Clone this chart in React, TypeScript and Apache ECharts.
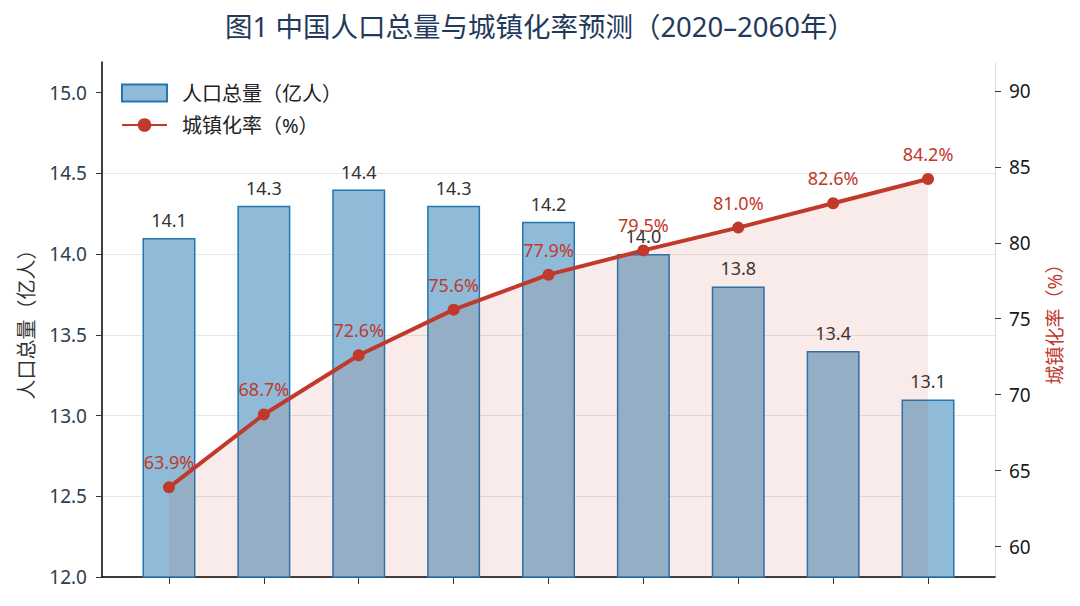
import React, { useEffect, useRef } from "react";
import * as echarts from "echarts";

const years = [2020, 2025, 2030, 2035, 2040, 2045, 2050, 2055, 2060];
const population = [14.1, 14.3, 14.4, 14.3, 14.2, 14.0, 13.8, 13.4, 13.1];
const urbanRate = [63.9, 68.7, 72.6, 75.6, 77.9, 79.5, 81.0, 82.6, 84.2];
const leftTicks = [12.0, 12.5, 13.0, 13.5, 14.0, 14.5, 15.0];
const rightTicks = [60, 65, 70, 75, 80, 85, 90];

const FONT = "'Noto Sans', 'Noto Sans CJK SC', sans-serif";
const RED = "#c0392b";
const BLUE = "#1f77b4";

export default function App() {
  const ref = useRef<HTMLDivElement>(null);
  useEffect(() => {
    if (!ref.current) return;
    const chart = echarts.init(ref.current, undefined, { renderer: "svg" });
    chart.setOption({
      animation: false,
      backgroundColor: "#ffffff",
      textStyle: { fontFamily: FONT },
      title: {
        text: "图1 中国人口总量与城镇化率预测（2020–2060年）",
        left: "center",
        top: 8,
        textStyle: { fontFamily: FONT, fontSize: 27.5, fontWeight: "normal", color: "#1f3a5c" },
      },
      legend: {
        orient: "vertical",
        left: 116,
        top: 78,
        itemWidth: 45,
        itemHeight: 17,
        itemGap: 12,
        textStyle: { fontFamily: FONT, fontSize: 20, color: "#222", padding: [0, 0, 0, 10] },
        data: [
          { name: "人口总量（亿人）", icon: "rect" },
          { name: "城镇化率（%）" },
        ],
      },
      grid: { left: 102, right: 85, top: 62, bottom: 29, containLabel: false },
      xAxis: {
        type: "value",
        min: 2016.47,
        max: 2063.53,
        axisLine: { show: true, onZero: false, lineStyle: { color: "#000", width: 1.5 } },
        axisTick: { show: true, customValues: years, length: 7, lineStyle: { color: "#333" } },
        axisLabel: { show: false },
        splitLine: { show: false },
      },
      yAxis: [
        {
          type: "value",
          min: 12,
          max: 15.19,
          interval: 0.5,
          name: "人口总量（亿人）",
          nameLocation: "middle",
          nameGap: 66,
          nameRotate: 90,
          nameTextStyle: { fontFamily: FONT, fontSize: 20, color: "#333" },
          axisLine: { show: true, lineStyle: { color: "#000", width: 1.5 } },
          axisTick: { show: true, customValues: leftTicks, length: 6, lineStyle: { color: "#333" } },
          axisLabel: {
            fontFamily: FONT,
            fontSize: 19,
            color: "#2c3e50",
            margin: 15,
            customValues: leftTicks,
            formatter: (v: number) => v.toFixed(1),
          },
          splitLine: { show: true, showMaxLine: false, lineStyle: { color: "#e6e6e6", width: 1 } },
        },
        {
          type: "value",
          min: 58,
          max: 91.9,
          position: "right",
          name: "城镇化率（%）",
          nameLocation: "middle",
          nameGap: 50,
          nameRotate: 90,
          nameTextStyle: { fontFamily: FONT, fontSize: 19, color: RED },
          axisLine: { show: true, lineStyle: { color: "#e0e0e0", width: 1 } },
          axisTick: { show: true, customValues: rightTicks, length: 6, lineStyle: { color: "#333" } },
          axisLabel: {
            fontFamily: FONT,
            fontSize: 19,
            color: "#1a1a1a",
            margin: 14,
            customValues: rightTicks,
          },
          splitLine: { show: false },
        },
      ],
      series: [
        {
          name: "人口总量（亿人）",
          type: "bar",
          yAxisIndex: 0,
          barWidth: 53,
          data: years.map((y, i) => [y, population[i]]),
          itemStyle: { color: "#8fbbd9", borderColor: BLUE, borderWidth: 1.5 },
          label: {
            show: true,
            position: "top",
            distance: 9,
            fontFamily: FONT,
            fontSize: 18,
            color: "#333",
            formatter: (p: any) => p.value[1].toFixed(1),
          },
          z: 2,
        },
        {
          name: "城镇化率（%）",
          type: "line",
          yAxisIndex: 1,
          data: years.map((y, i) => [y, urbanRate[i]]),
          symbol: "circle",
          symbolSize: 12,
          lineStyle: { color: RED, width: 4 },
          itemStyle: { color: RED },
          areaStyle: { color: RED, opacity: 0.1, origin: "start" },
          label: {
            show: true,
            position: "top",
            distance: 10,
            fontFamily: FONT,
            fontSize: 18,
            color: RED,
            formatter: (p: any) => p.value[1].toFixed(1) + "%",
          },
          z: 3,
        },
      ],
    });
    return () => chart.dispose();
  }, []);
  return (
    <div
      ref={ref}
      style={{ position: "fixed", left: 0, top: 0, width: 1080, height: 606 }}
    />
  );
}
